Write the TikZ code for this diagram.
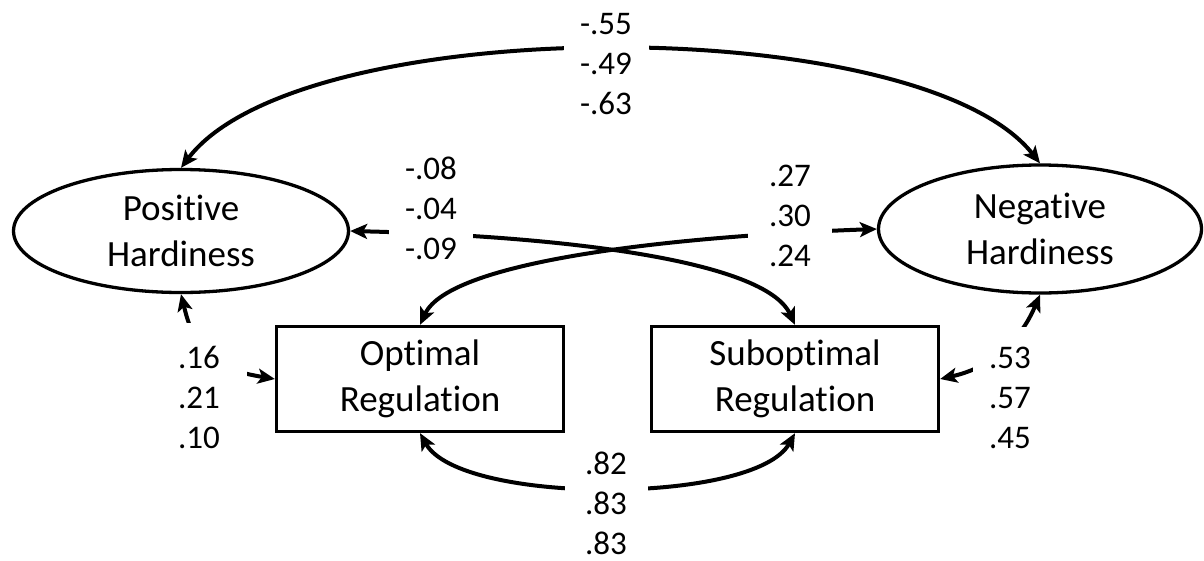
\documentclass[tikz,border=0pt]{standalone}
\usepackage{fontspec}
\setmainfont{Carlito}[Ligatures=CommonOff]
\usetikzlibrary{shapes.geometric,arrows.meta}
\newcommand{\lvfont}{\fontsize{37}{46}\selectfont}
\newcommand{\cffont}{\fontsize{33}{40}\selectfont}
\begin{document}
\begin{tikzpicture}[x=1pt, y=-1pt,
      latent/.style={draw, ellipse, line width=3.3pt, inner sep=0pt,
        align=center, font=\lvfont},
      observed/.style={draw, rectangle, line width=3.3pt, inner sep=0pt,
        align=center, font=\lvfont, minimum width=287pt, minimum height=105pt},
      arrow/.style={{Stealth[length=17pt,width=15pt,inset=4pt]}-{Stealth[length=17pt,width=15pt,inset=4pt]},
        line width=4pt},
      coef/.style={fill=white, inner sep=1pt, align=center, font=\cffont},
    ]
    \useasboundingbox (0,0) rectangle (1204,560);

    \node[latent, minimum width=335pt, minimum height=123pt] (pos) at (181, 231) {Positive\\Hardiness};
    \node[latent, minimum width=323pt, minimum height=128pt] (neg) at (1040, 229) {Negative\\Hardiness};
    \node[observed] (opt) at (420, 379) {Optimal\\Regulation};
    \node[observed] (sub) at (795, 379) {Suboptimal\\Regulation};

    % Covariances between the latents
    \draw[arrow] (pos.north) .. controls (300, 11) and (920, 11) .. (neg.north);

    % Cross paths
    \draw[arrow] (pos.east) .. controls (560, 236) and (765, 260) .. (sub.north);
    \draw[arrow] (neg.west) .. controls (680, 236) and (450, 260) .. (opt.north);

    % Same-side paths
    \draw[arrow] (pos.south) .. controls (196, 356) and (215, 369) .. (opt.west);
    \draw[arrow] (neg.south) .. controls (1019, 344) and (989, 368) .. (sub.east);

    % Between the regulation boxes
    \draw[arrow] (opt.south) .. controls (460, 505) and (755, 505) .. (sub.south);

    % Coefficients (white boxes break the lines)
    \node[coef, minimum width=85pt] (cTop) at (606, 64) {-.55\\-.49\\-.63};
    \node[coef, minimum width=84pt] (cPosSub) at (431, 208) {-.08\\-.04\\-.09};
    \node[coef, minimum width=84pt] (cNegOpt) at (790, 216) {.27\\.30\\.24};
    \node[coef, minimum width=96pt, minimum height=148pt] (cPosOpt) at (199, 397) {.16\\.21\\.10};
    \node[coef, minimum width=74pt, minimum height=142pt] (cNegSub) at (1010, 398) {.53\\.57\\.45};
    \node[coef, minimum width=83pt] (cOptSub) at (606, 503) {.82\\.83\\.83};
\end{tikzpicture}
\end{document}
